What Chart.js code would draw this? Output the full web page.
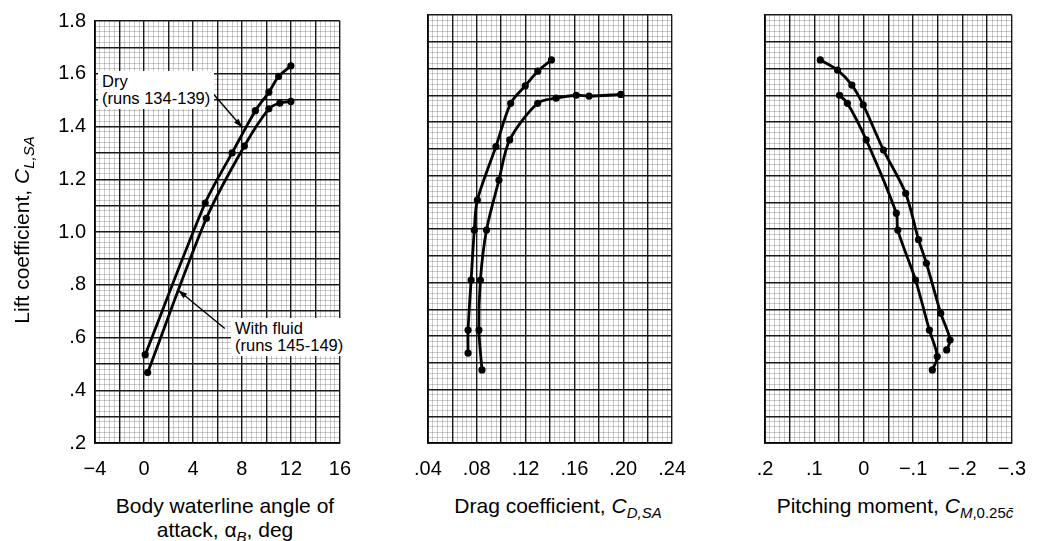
<!DOCTYPE html>
<html>
<head>
<meta charset="utf-8">
<script src="https://cdn.jsdelivr.net/npm/chart.js@4"></script>
<style>
  body { margin: 0; background: #fff; }
  #wrap { position: relative; width: 1044px; height: 541px; font-family: "Liberation Sans", Arial, sans-serif; color: #000; }
  canvas { position: absolute; top: 0; }
  .title { position: absolute; font-size: 21px; white-space: nowrap; text-align: center; line-height: 24px; }
  .title sub { font-size: 15px; vertical-align: -5px; line-height: 0; }
  .note { position: absolute; background: #fff; font-size: 16.5px; line-height: 17px; padding: 2px 4px; white-space: nowrap; }
</style>
</head>
<body>
<div id="wrap">
  <canvas id="alpha" width="365" height="485" style="left:0px"></canvas>
  <canvas id="drag" width="300" height="485" style="left:400px"></canvas>
  <canvas id="moment" width="300" height="485" style="left:740px"></canvas>

  <div class="title" style="left:-108px; top:218px; width:260px; transform: rotate(-90deg);">Lift coefficient, <i>C</i><sub><i>L,SA</i></sub></div>
  <div class="title" style="left:95px; top:494px; width:260px;">Body waterline angle of<br>attack, &alpha;<sub><i>B</i></sub>, deg</div>
  <div class="title" style="left:428px; top:494px; width:260px;">Drag coefficient, <i>C</i><sub><i>D,SA</i></sub></div>
  <div class="title" style="left:760px; top:494px; width:270px;">Pitching moment, <i>C</i><sub><i>M</i>,0.25<i>c&#772;</i></sub></div>

  <div class="note" style="left:98px; top:71px;">Dry<br>(runs 134-139)</div>
  <div class="note" style="left:231px; top:318px;">With fluid<br>(runs 145-149)</div>
</div>

<script>
// lift coefficient vs angle of attack
const dryAlpha = [0.1, 5, 7.2, 9.1, 10.2, 11, 12];
const dryLiftA = [0.535, 1.11, 1.30, 1.46, 1.53, 1.59, 1.63];
const fluidAlpha = [0.3, 5.1, 8.2, 10.2, 11.1, 12];
const fluidLiftA = [0.467, 1.052, 1.326, 1.467, 1.489, 1.495];

// lift coefficient vs drag coefficient
const dryDrag = [0.0729, 0.0729, 0.0754, 0.078, 0.0805, 0.0957, 0.1078, 0.1197, 0.130, 0.1412];
const dryLiftD = [0.536, 0.622, 0.809, 0.996, 1.108, 1.308, 1.470, 1.535, 1.59, 1.632];
const fluidDrag = [0.0843, 0.0818, 0.083, 0.088, 0.0982, 0.107, 0.1299, 0.145, 0.1615, 0.172, 0.198];
const fluidLiftD = [0.473, 0.622, 0.809, 0.996, 1.183, 1.333, 1.47, 1.489, 1.50, 1.497, 1.503];

// lift coefficient vs pitching moment
const dryMoment = [0.088, 0.053, 0.024, 0.001, -0.040, -0.085, -0.111, -0.127, -0.156, -0.175, -0.168];
const dryLiftM = [1.632, 1.594, 1.538, 1.464, 1.295, 1.133, 0.96, 0.872, 0.685, 0.585, 0.548];
const fluidMoment = [0.049, 0.033, -0.005, -0.066, -0.069, -0.105, -0.133, -0.149, -0.139];
const fluidLiftM = [1.50, 1.47, 1.333, 1.059, 0.996, 0.809, 0.622, 0.523, 0.473];

// tick labels
const liftTicks = [0.2, 0.4, 0.6, 0.8, 1.0, 1.2, 1.4, 1.6, 1.8];
const alphaTicks = [-4, 0, 4, 8, 12, 16];
const dragTicks = [0.04, 0.08, 0.12, 0.16, 0.20, 0.24];
const momentTicks = [0.2, 0.1, 0, -0.1, -0.2, -0.3];

// leader arrows, [from, to] in data units of the left panel
const dryArrow = [[5.6, 1.527], [8.05, 1.395]];
const fluidArrow = [[6.6, 0.634], [2.77, 0.78]];

const FONT = { family: '"Liberation Sans", Arial, sans-serif', size: 20 };

function isMult(v, m) {
  return Math.abs(v / m - Math.round(v / m)) < 1e-6;
}

function fmt(v, digits) {
  if (Math.abs(v) < 1e-9) return '0';
  let s = Math.abs(v).toFixed(digits);
  if (Math.abs(v) < 1) s = s.slice(1);
  return (v < 0 ? '\u2212' : '') + s;
}

function pairs(xs, ys) {
  return xs.map((x, i) => ({ x: x, y: ys[i] }));
}

function gridFor(major) {
  return {
    drawTicks: false,
    color: ctx => isMult(ctx.tick.value, major) ? '#1a1a1a' : 'rgba(0,0,0,0.2)',
    lineWidth: ctx => isMult(ctx.tick.value, major) ? 1.4 : 1,
  };
}

function lineSet(data, width) {
  return {
    data: data,
    showLine: true,
    borderColor: '#000',
    backgroundColor: '#000',
    borderWidth: width,
    pointRadius: 2.2,
    pointHoverRadius: 2.2,
    tension: 0.3,
  };
}

const arrowPlugin = {
  id: 'arrows',
  afterDatasetsDraw(chart) {
    const { ctx, scales } = chart;
    [dryArrow, fluidArrow].forEach(a => {
      const x0 = scales.x.getPixelForValue(a[0][0]);
      const y0 = scales.y.getPixelForValue(a[0][1]);
      const x1 = scales.x.getPixelForValue(a[1][0]);
      const y1 = scales.y.getPixelForValue(a[1][1]);
      const ang = Math.atan2(y1 - y0, x1 - x0);
      ctx.save();
      ctx.strokeStyle = '#000';
      ctx.fillStyle = '#000';
      ctx.lineWidth = 1.4;
      ctx.beginPath();
      ctx.moveTo(x0, y0);
      ctx.lineTo(x1, y1);
      ctx.stroke();
      ctx.beginPath();
      ctx.moveTo(x1, y1);
      ctx.lineTo(x1 - 10 * Math.cos(ang - 0.3), y1 - 10 * Math.sin(ang - 0.3));
      ctx.lineTo(x1 - 10 * Math.cos(ang + 0.3), y1 - 10 * Math.sin(ang + 0.3));
      ctx.closePath();
      ctx.fill();
      ctx.restore();
    });
  }
};

function makeChart(id, cfg) {
  const xOpts = {
    type: 'linear',
    min: cfg.xMin,
    max: cfg.xMax,
    reverse: !!cfg.reverse,
    grid: gridFor(cfg.major),
    border: { color: '#000', width: 1.8 },
    afterFit: s => { s.height = 42; },
    ticks: {
      stepSize: cfg.minor,
      autoSkip: false,
      maxRotation: 0,
      padding: 14,
      color: '#000',
      font: FONT,
      callback: v => cfg.labels.some(t => Math.abs(t - v) < 1e-6) ? fmt(v, cfg.digits) : '',
    },
  };
  const yOpts = {
    type: 'linear',
    min: 0.2,
    max: 1.8,
    grid: gridFor(0.1),
    border: { color: '#000', width: 1.8 },
    afterFit: s => { s.width = cfg.yWidth; },
    ticks: {
      display: !!cfg.yLabels,
      stepSize: 0.02,
      autoSkip: false,
      padding: 9,
      color: '#000',
      font: FONT,
      callback: v => liftTicks.some(t => Math.abs(t - v) < 1e-6) ? fmt(v, 1) : '',
    },
  };
  return new Chart(document.getElementById(id), {
    type: 'scatter',
    data: { datasets: cfg.datasets },
    options: {
      responsive: false,
      animation: false,
      layout: { padding: { top: 15, right: cfg.padRight, left: 0, bottom: 0 } },
      plugins: { legend: { display: false }, tooltip: { enabled: false } },
      scales: { x: xOpts, y: yOpts },
    },
    plugins: cfg.plugins || [],
  });
}

makeChart('alpha', {
  xMin: -4, xMax: 16, minor: 0.4, major: 2, labels: alphaTicks, digits: 0,
  yWidth: 95, yLabels: true, padRight: 10,
  datasets: [lineSet(pairs(dryAlpha, dryLiftA), 2.8), lineSet(pairs(fluidAlpha, fluidLiftA), 2.8)],
  plugins: [arrowPlugin],
});

makeChart('drag', {
  xMin: 0.04, xMax: 0.24, minor: 0.004, major: 0.02, labels: dragTicks, digits: 2,
  yWidth: 27, yLabels: false, padRight: 10,
  datasets: [lineSet(pairs(dryDrag, dryLiftD), 2.8), lineSet(pairs(fluidDrag, fluidLiftD), 2.8)],
});

makeChart('moment', {
  xMin: -0.3, xMax: 0.2, reverse: true, minor: 0.01, major: 0.05, labels: momentTicks, digits: 1,
  yWidth: 25, yLabels: false, padRight: 15,
  datasets: [lineSet(pairs(dryMoment, dryLiftM), 2.8), lineSet(pairs(fluidMoment, fluidLiftM), 2.8)],
});
</script>
</body>
</html>
